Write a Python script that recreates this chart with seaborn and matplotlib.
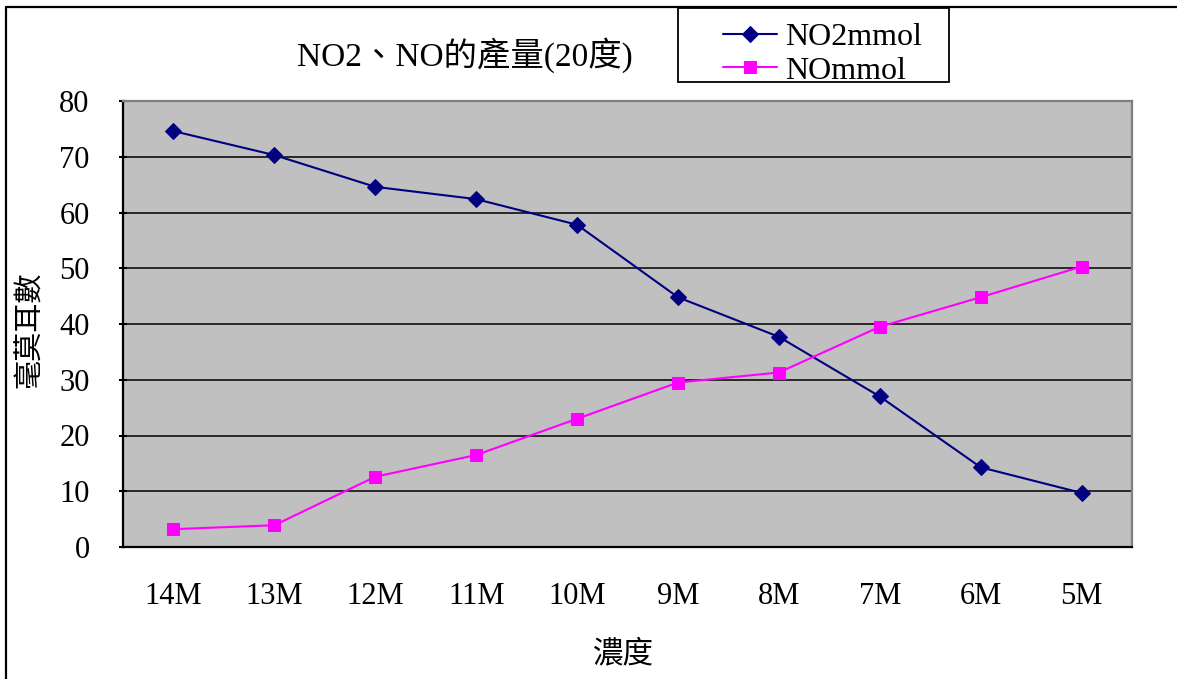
import numpy as np
import pandas as pd
import matplotlib
matplotlib.use("Agg")
import matplotlib.pyplot as plt
from matplotlib.lines import Line2D
from matplotlib.patches import Rectangle
import seaborn as sns

# Concentration categories and measured amounts (mmol)
concentrations = ["14M", "13M", "12M", "11M", "10M", "9M", "8M", "7M", "6M", "5M"]
no2_mmol = [74.6, 70.3, 64.6, 62.4, 57.8, 44.8, 37.7, 27.0, 14.3, 9.7]
no_mmol = [3.2, 3.9, 12.6, 16.5, 23.0, 29.5, 31.3, 39.5, 44.8, 50.3]
y_ticks = [0, 10, 20, 30, 40, 50, 60, 70, 80]

title_text = "NO2、NO的產量(20度)"
y_label = "毫莫耳數"
x_label = "濃度"

sns.set_style("white")
plt.rcParams["font.family"] = ["Liberation Serif", "Noto Sans CJK TC"]
plt.rcParams["text.color"] = "black"
plt.rcParams["xtick.color"] = "black"
plt.rcParams["ytick.color"] = "black"

W, H = 1177, 679
fig = plt.figure(figsize=(W / 100, H / 100), dpi=100)


def fx(px):
    return px / W


def fy(py):
    return 1 - py / H


ax = fig.add_axes([fx(123), fy(547), fx(1132) - fx(123), fy(101) - fy(547)])
ax.set_facecolor("#C0C0C0")

pos = np.arange(len(concentrations))
df = pd.DataFrame({"pos": pos, "NO2mmol": no2_mmol, "NOmmol": no_mmol})

sns.lineplot(data=df, x="pos", y="NO2mmol", ax=ax, color="#000080",
             marker="D", markersize=8, markeredgecolor="#000080",
             linewidth=1.5, label="NO2mmol", zorder=3)
sns.lineplot(data=df, x="pos", y="NOmmol", ax=ax, color="#FF00FF",
             marker="s", markersize=9, markeredgecolor="#FF00FF",
             linewidth=1.5, label="NOmmol", zorder=3)

handles, labels = ax.get_legend_handles_labels()
ax.get_legend().remove()

# Axes styling
ax.set_xlim(-0.5, len(concentrations) - 0.5)
ax.set_ylim(0, 80)
ax.set_xticks(pos)
ax.set_xticklabels(concentrations)
ax.set_xticks(np.arange(-0.5, len(concentrations), 1), minor=True)
ax.set_yticks(y_ticks)
ax.set_xlabel("")
ax.set_ylabel("")

ax.tick_params(axis="x", which="major", length=0, pad=25, labelsize=22,
               labelcolor="black")
ax.tick_params(axis="x", which="minor", direction="in", length=6, width=1.3,
               color="black")
ax.tick_params(axis="y", which="major", direction="inout", length=6, width=1.5,
               color="black", pad=21, labelsize=22, left=True,
               labelcolor="black")

ax.set_axisbelow(True)
ax.yaxis.grid(True, color="black", linewidth=1.1)
ax.xaxis.grid(False)

for side in ("left", "bottom"):
    ax.spines[side].set_color("black")
    ax.spines[side].set_linewidth(1.6)
for side in ("top", "right"):
    ax.spines[side].set_color("#808080")
    ax.spines[side].set_linewidth(1.6)

# Titles and labels
fig.text(fx(465), fy(55), title_text, ha="center", va="center", fontsize=24,
         color="black")
fig.text(fx(30), fy(330), y_label, rotation=90, ha="center", va="center",
         fontsize=21, color="black")
fig.text(fx(623), fy(655), x_label, ha="center", va="center", fontsize=22,
         color="black")

# Chart frame (top and left edges)
fig.add_artist(Line2D([fx(6), 1], [fy(7), fy(7)], transform=fig.transFigure,
                      color="black", linewidth=1.6))
fig.add_artist(Line2D([fx(6), fx(6)], [0, fy(7)], transform=fig.transFigure,
                      color="black", linewidth=1.6))

# Legend with its own box
fig.add_artist(Rectangle((fx(678), fy(82)), fx(949) - fx(678), fy(8) - fy(82),
                         transform=fig.transFigure, fill=False,
                         edgecolor="black", linewidth=1.3))
leg = fig.legend(handles, labels, loc="upper left",
                 bbox_to_anchor=(fx(723), fy(23)),
                 frameon=False, borderpad=0, borderaxespad=0,
                 handlelength=1.7, handletextpad=0.25, labelspacing=0.12,
                 fontsize=23)
for t in leg.get_texts():
    t.set_color("black")

fig.savefig("out.png", dpi=100)
